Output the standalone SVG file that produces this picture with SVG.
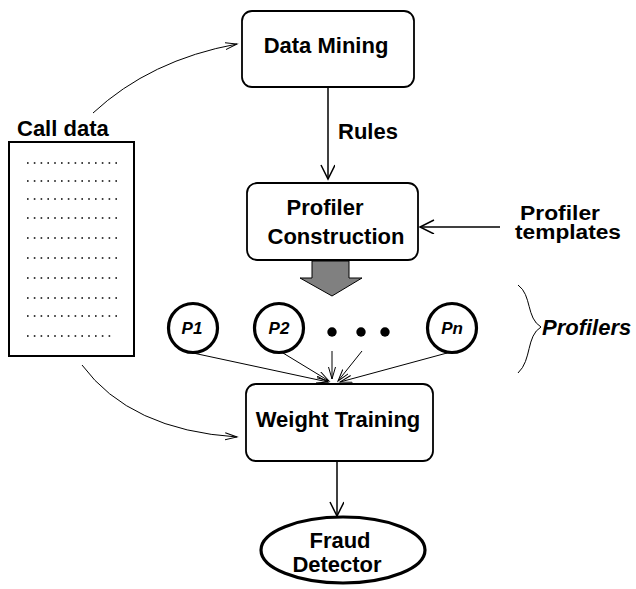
<svg xmlns="http://www.w3.org/2000/svg" width="636" height="589" viewBox="0 0 636 589">
<defs>
<marker id="open" markerWidth="18" markerHeight="16" refX="15" refY="7" orient="auto" markerUnits="userSpaceOnUse">
<path d="M1 0 L15 7 L1 14" fill="none" stroke="#000" stroke-width="1.5"/>
</marker>
<marker id="thin" markerWidth="14" markerHeight="10" refX="12" refY="4" orient="auto" markerUnits="userSpaceOnUse">
<path d="M0 0.5 L12 4 L0 7.5" fill="none" stroke="#000" stroke-width="1"/>
</marker>
</defs>
<style>
text{font-family:"Liberation Sans",Arial,sans-serif;font-weight:bold;font-size:22px;fill:#000}
.it{font-style:italic}
.sm{font-size:17px;font-style:italic}
.tp{font-size:20px}
.box{fill:#fff;stroke:#000;stroke-width:1.8}
.thick{fill:#fff;stroke:#000;stroke-width:3.2}
.dots{stroke:#000;stroke-width:1.6;stroke-dasharray:1.6 5.2;fill:none}
.c{fill:none;stroke:#000;stroke-width:1.5}
.t{fill:none;stroke:#000;stroke-width:1}
</style>
<g id="calldata">
<text x="17" y="136">Call data</text>
<rect x="9" y="142" width="125" height="214" fill="#fff" stroke="#000" stroke-width="2"/>
<path class="dots" d="M27 163H117M27 181H117M27 199H117M27 218H117M27 238H117M27 258H117M27 278H117M27 298H117M27 316H117M27 336H111"/>
</g>
<g id="datamining">
<rect class="box" x="242" y="11" width="172" height="76" rx="10"/>
<text x="326" y="53" text-anchor="middle">Data Mining</text>
</g>
<g id="profiler">
<rect class="box" x="247" y="183" width="171" height="77" rx="10"/>
<text x="325" y="215" text-anchor="middle">Profiler</text>
<text x="336" y="244" text-anchor="middle">Construction</text>
</g>
<g id="templates">
<text class="tp" x="520" y="220" textLength="80" lengthAdjust="spacingAndGlyphs">Profiler</text>
<text class="tp" x="515" y="239" textLength="106" lengthAdjust="spacingAndGlyphs">templates</text>
</g>
<g id="bigarrow">
<polygon points="312,261 349,261 349,278 362,278 332,296 300,278 312,278" fill="#808080" stroke="#000" stroke-width="1"/>
</g>
<g id="p1"><circle class="thick" cx="193" cy="328" r="24.5"/><text class="sm" x="192" y="334" text-anchor="middle">P1</text></g>
<g id="p2"><circle class="thick" cx="279" cy="328" r="24.5"/><text class="sm" x="279" y="334" text-anchor="middle">P2</text></g>
<g id="ellipsis"><circle cx="332" cy="332" r="4.7"/><circle cx="361" cy="332" r="4.7"/><circle cx="385" cy="332" r="4.7"/></g>
<g id="pn"><circle class="thick" cx="452" cy="328" r="24.5"/><text class="sm" x="452" y="334" text-anchor="middle">Pn</text></g>
<g id="profilers">
<path d="M518 285 C532 295 526 318 541 327 C526 336 532 360 518 373" fill="none" stroke="#000" stroke-width="1"/>
<text class="it" x="542" y="335">Profilers</text>
</g>
<g id="weight">
<rect class="box" x="246" y="384" width="187" height="77" rx="10"/>
<text x="338" y="427" text-anchor="middle">Weight Training</text>
</g>
<g id="fraud">
<ellipse class="thick" cx="343" cy="550" rx="82" ry="33"/>
<text x="340" y="548" text-anchor="middle">Fraud</text>
<text x="337" y="572" text-anchor="middle">Detector</text>
</g>
<g id="connectors">
<path class="t" d="M93 113 Q150 60 237 44" marker-end="url(#thin)"/>
<path class="t" d="M82 365 Q130 430 237 437" marker-end="url(#thin)"/>
<line class="c" x1="328" y1="87" x2="328" y2="179" marker-end="url(#open)"/>
<text x="338" y="139">Rules</text>
<line class="c" x1="500" y1="227" x2="420" y2="227" marker-end="url(#open)"/>
<line class="t" x1="193" y1="353" x2="328" y2="382" marker-end="url(#thin)"/>
<line class="t" x1="283" y1="353" x2="329" y2="381" marker-end="url(#thin)"/>
<line class="t" x1="332" y1="351" x2="332" y2="379" marker-end="url(#thin)"/>
<line class="t" x1="362" y1="351" x2="338" y2="381" marker-end="url(#thin)"/>
<line class="t" x1="447" y1="353" x2="340" y2="382" marker-end="url(#thin)"/>
<line class="c" x1="337" y1="461" x2="337" y2="516" marker-end="url(#open)"/>
</g>
</svg>
